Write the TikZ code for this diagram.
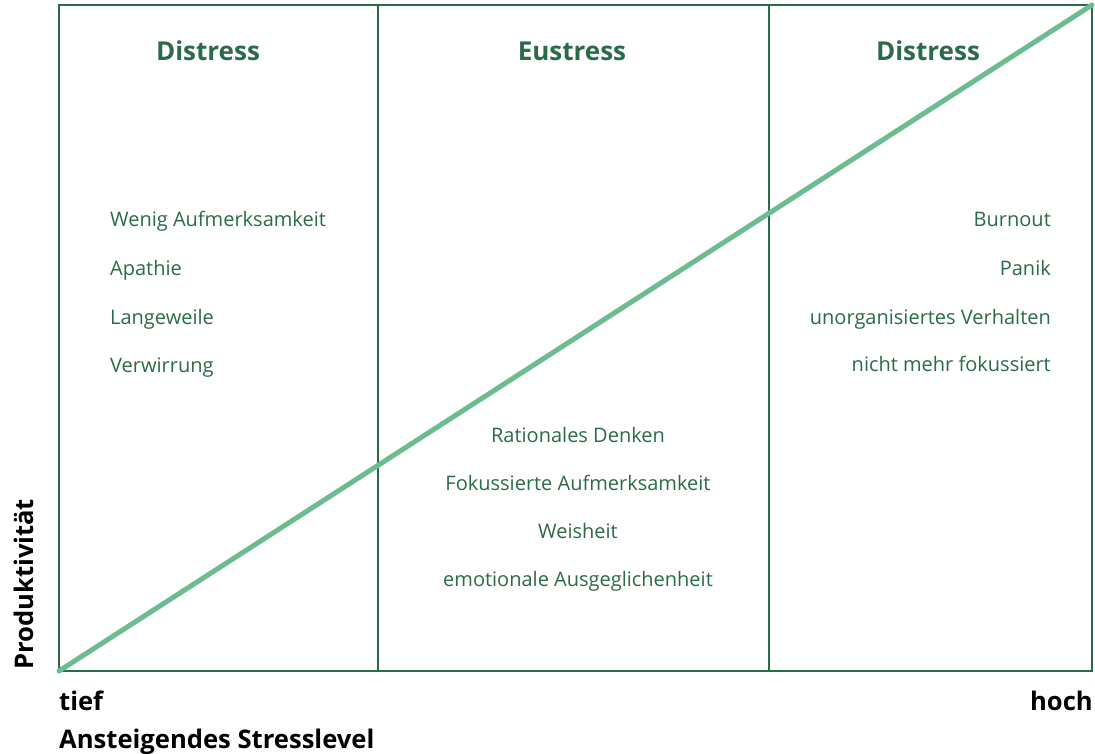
\documentclass[tikz,border=0pt]{standalone}
\usepackage{fontspec}
\setmainfont{Open Sans}
\definecolor{dgreen}{HTML}{2A6B48}
\definecolor{lgreen}{HTML}{6DBB91}
\begin{document}
\begin{tikzpicture}[x=1pt,y=-1pt,
  title/.style={font=\fontsize{26}{30}\selectfont\bfseries, text=dgreen, anchor=base, inner sep=0},
  item/.style={font=\fontsize{20}{24}\selectfont, text=dgreen, inner sep=0},
  axis/.style={font=\fontsize{25.6}{30}\selectfont\bfseries, text=black, inner sep=0}]
\useasboundingbox (0,0) rectangle (1095,754);
\coordinate (tl) at (59,5);
\coordinate (br) at (1092,671);
\coordinate (bl) at (59,671);
\coordinate (tr) at (1092,5);
\coordinate (d1t) at (378,5);
\coordinate (d1b) at (378,671);
\coordinate (d2t) at (769,5);
\coordinate (d2b) at (769,671);
\draw[dgreen, line width=1.3pt] (d1t) -- (d1b);
\draw[dgreen, line width=1.3pt] (d2t) -- (d2b);
\draw[dgreen, line width=2.2pt] (tl) rectangle (br);
\draw[lgreen, line width=5pt, line cap=round] (bl) -- (tr);
\node[title] (t1) at (208,61) {Distress};
\node[title] (t2) at (572,61) {Eustress};
\node[title] (t3) at (928,61) {Distress};
\node[item, anchor=base west] (l1) at (110,227) {Wenig Aufmerksamkeit};
\node[item, anchor=base west] (l2) at (110,276) {Apathie};
\node[item, anchor=base west] (l3) at (110,324) {Langeweile};
\node[item, anchor=base west] (l4) at (110,372) {Verwirrung};
\node[item, anchor=base east] (r1) at (1051,227) {Burnout};
\node[item, anchor=base east] (r2) at (1051,276) {Panik};
\node[item, anchor=base east] (r3) at (1051,324) {unorganisiertes Verhalten};
\node[item, anchor=base east] (r4) at (1051,371) {nicht mehr fokussiert};
\node[item, anchor=base] (c1) at (578,442) {Rationales Denken};
\node[item, anchor=base] (c2) at (578,490) {Fokussierte Aufmerksamkeit};
\node[item, anchor=base] (c3) at (578,538) {Weisheit};
\node[item, anchor=base] (c4) at (578,586) {emotionale Ausgeglichenheit};
\node[axis, anchor=base west] (tief) at (59,710) {tief};
\node[axis, anchor=base east] (hoch) at (1093,710) {hoch};
\node[axis, anchor=base west] (xlab) at (59,748) {Ansteigendes Stresslevel};
\node[axis, anchor=base west, rotate=90] (ylab) at (33,670) {Produktivität};
\end{tikzpicture}
\end{document}
